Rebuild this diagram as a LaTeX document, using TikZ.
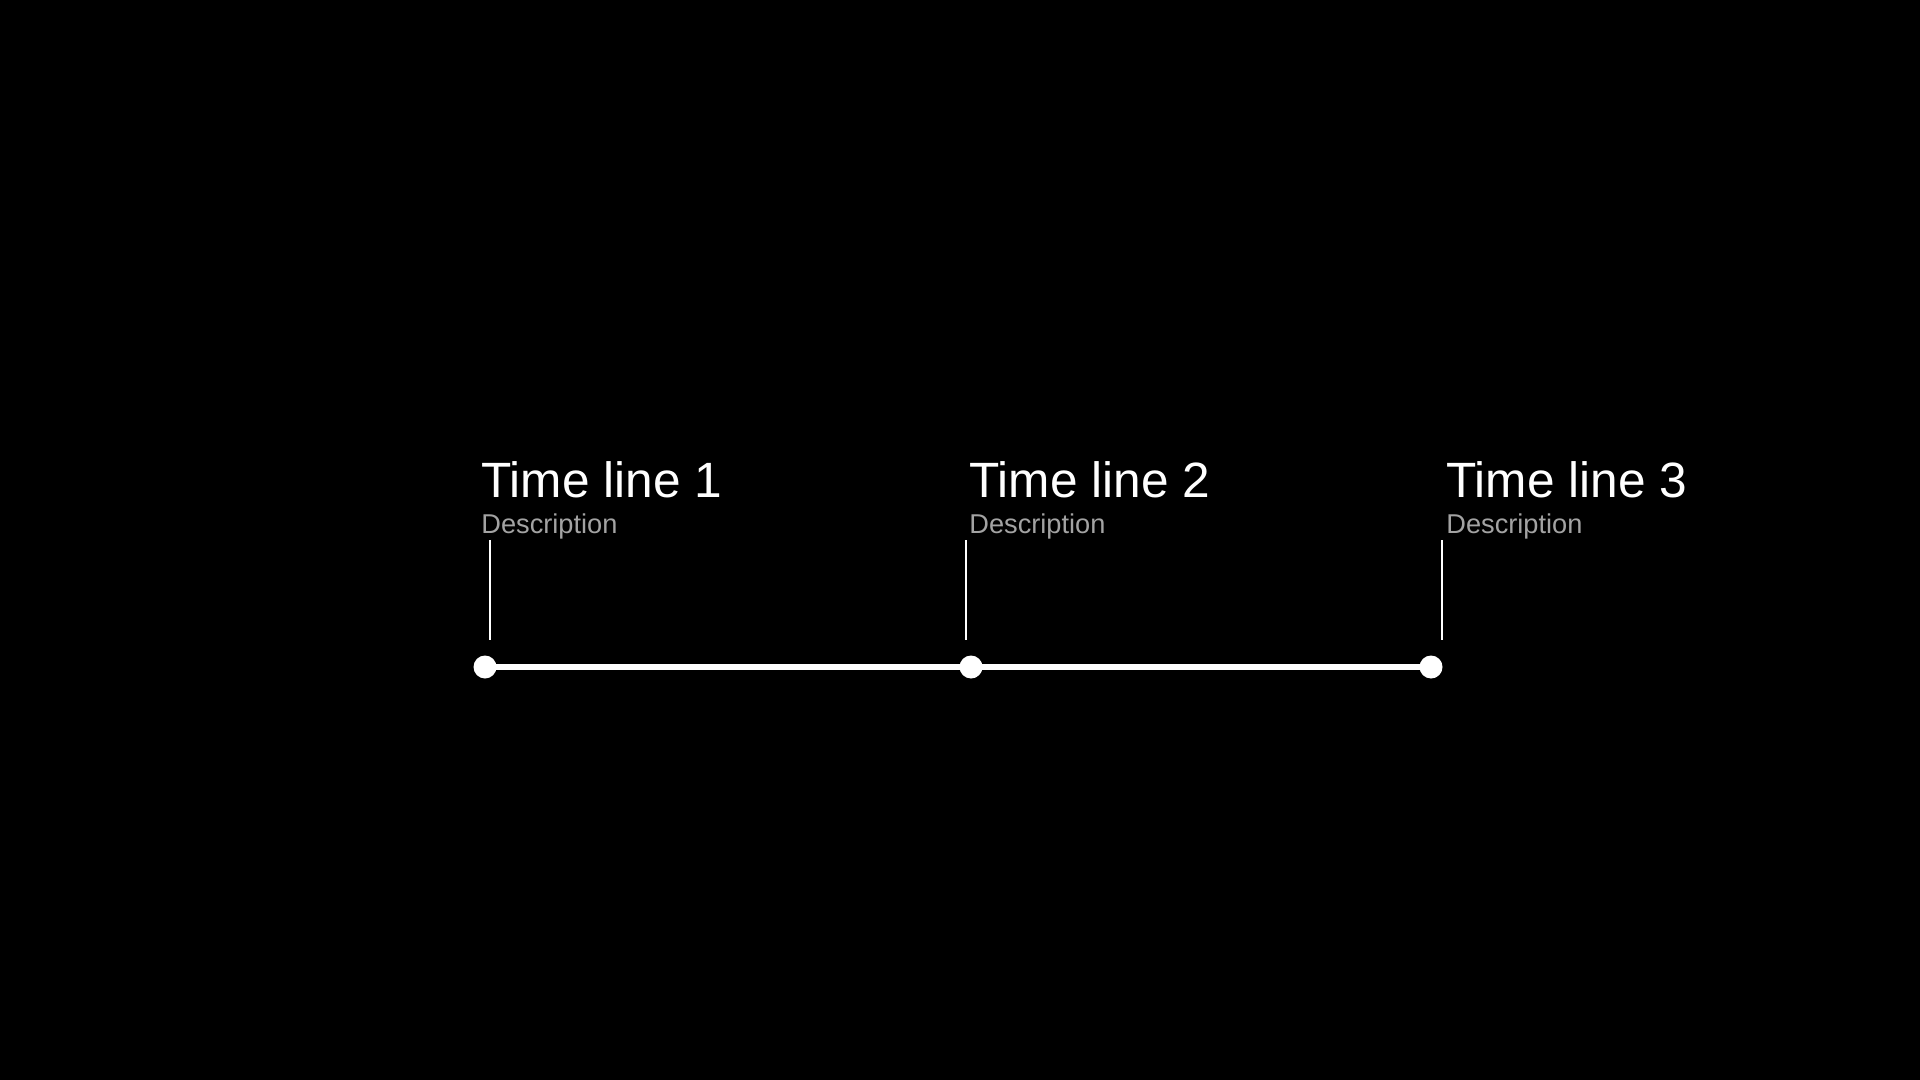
\documentclass[tikz,border=0pt]{standalone}
\usepackage{fontspec}
\setmainfont{Liberation Sans}
\usetikzlibrary{calc}
\definecolor{descgray}{HTML}{A3A3A3}

\tikzset{
    dot/.style={circle, fill=white, inner sep=0pt, minimum size=11.5pt},
    title/.style={anchor=base west, inner sep=0pt, text=white, font=\fontsize{24.8}{29}\selectfont},
    desc/.style={anchor=base west, inner sep=0pt, text=descgray, font=\fontsize{13.6}{16}\selectfont},
    axis/.style={white, line width=3pt},
    tick/.style={white, line width=1pt}
}

\begin{document}
\begin{tikzpicture}[x=0.5pt,y=-0.5pt]
    \fill[black] (0,0) rectangle (1920,1080);
    \useasboundingbox (0,0) rectangle (1920,1080);

    \node[dot] (d1) at (485,667) {};
    \node[dot] (d2) at (971,667) {};
    \node[dot] (d3) at (1431,667) {};
    \draw[axis] (d1.center) -- (d2.center) -- (d3.center);

    \coordinate (a1) at (490,540);
    \coordinate (b1) at (490,640);
    \coordinate (a2) at (966,540);
    \coordinate (b2) at (966,640);
    \coordinate (a3) at (1442,540);
    \coordinate (b3) at (1442,640);
    \draw[tick] (a1) -- (b1);
    \draw[tick] (a2) -- (b2);
    \draw[tick] (a3) -- (b3);

    \node[title] (t1) at (481,497) {Time line 1};
    \node[desc] (s1) at (481,533) {Description};

    \node[title] (t2) at (969,497) {Time line 2};
    \node[desc] (s2) at (969,533) {Description};

    \node[title] (t3) at (1446,497) {Time line 3};
    \node[desc] (s3) at (1446,533) {Description};
\end{tikzpicture}
\end{document}
